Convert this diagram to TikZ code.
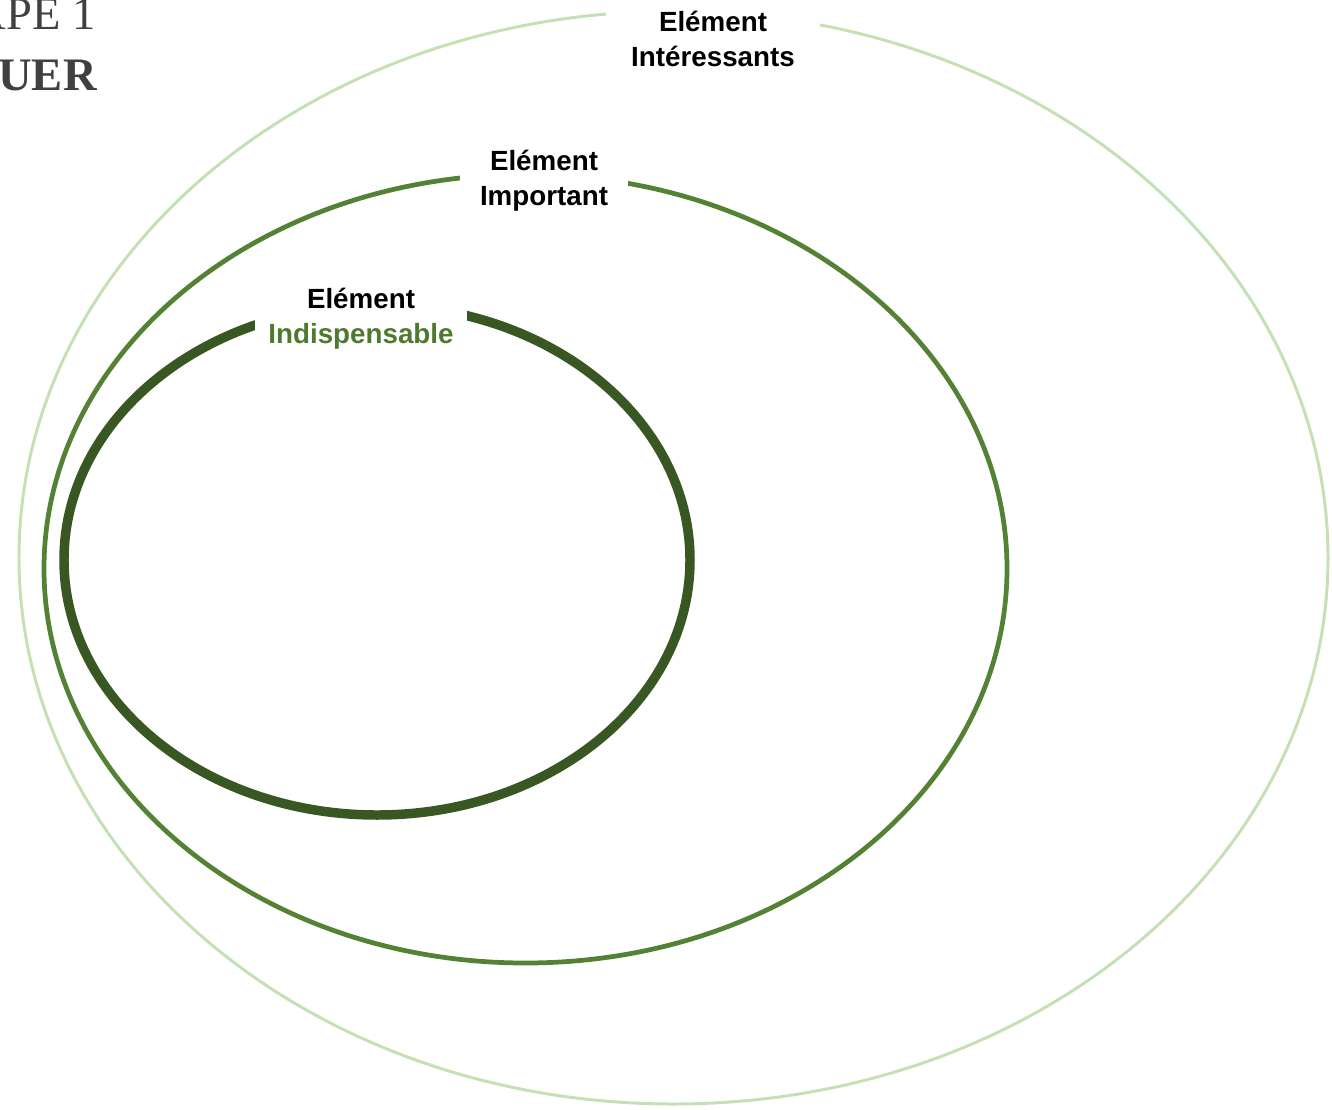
\documentclass[tikz,border=0pt]{standalone}
\usepackage{fontspec}
\setmainfont{Liberation Sans}
\newfontfamily\titrefont{Liberation Serif}
\definecolor{vertclair}{HTML}{C5E0B4}
\definecolor{vertmoyen}{HTML}{548235}
\definecolor{vertfonce}{HTML}{385723}
\definecolor{verttexte}{HTML}{4E7A2F}
\definecolor{grisfonce}{HTML}{404040}
\tikzstyle{etiquette} = [fill=white, text=black, align=center, inner ysep=1pt, font=\bfseries\fontsize{15.8}{20}\selectfont]
\tikzstyle{titre} = [anchor=base east, text=grisfonce, inner sep=0pt, font=\titrefont\fontsize{26.5}{30}\selectfont]

\begin{document}
\begin{tikzpicture}[x=0.02cm, y=-0.02cm]
	\useasboundingbox (0,0) rectangle (1332,1109);
	\draw[vertclair, line width=1.7pt] (673.5,557.6) ellipse [x radius=654.5, y radius=546.4];
	\draw[vertmoyen, line width=2.7pt] (525.5,568.7) ellipse [x radius=481.5, y radius=394.3];
	\draw[vertfonce, line width=5.4pt] (377,560) ellipse [x radius=313, y radius=255];
	\node[etiquette, minimum width=4.28cm] (interessants) at (713,39) {Elément\\Intéressants};
	\node[etiquette, minimum width=3.36cm] (important) at (544,181) {Elément\\Important};
	\node[etiquette, minimum width=4.24cm] (indispensable) at (361,319) {Elément\\\textcolor{verttexte}{Indispensable}};
	\node[titre] (etape) at (96,29) {APE 1};
	\node[titre] (evaluer) at (97,90) {\bfseries UER};
\end{tikzpicture}
\end{document}
